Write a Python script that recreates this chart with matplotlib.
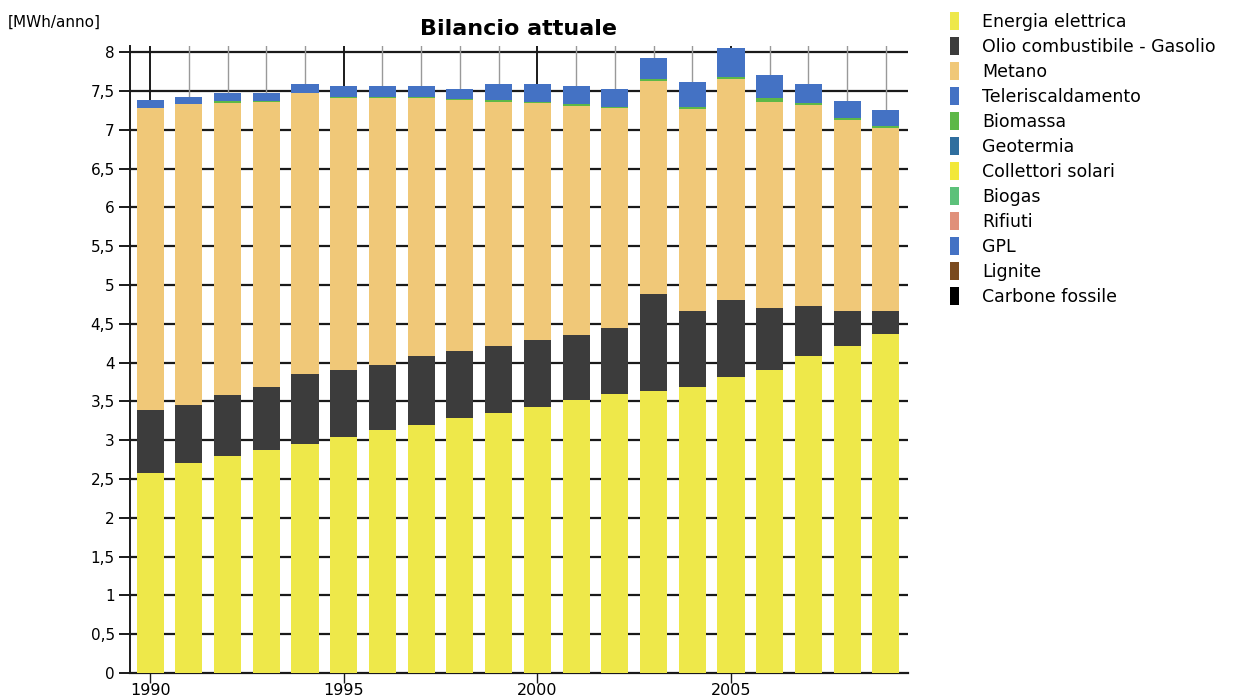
import numpy as np
import matplotlib
matplotlib.use("Agg")
import matplotlib.pyplot as plt
from matplotlib.patches import Patch

# dati (MWh/anno)
anni = list(range(1990, 2010))
energia_elettrica = [2.58, 2.70, 2.79, 2.87, 2.95, 3.04, 3.13, 3.20, 3.28, 3.35,
                     3.43, 3.52, 3.59, 3.64, 3.69, 3.81, 3.91, 4.08, 4.21, 4.37]
olio_gasolio = [0.81, 0.76, 0.79, 0.81, 0.90, 0.86, 0.84, 0.88, 0.87, 0.87,
                0.86, 0.84, 0.85, 1.24, 0.97, 1.00, 0.80, 0.65, 0.45, 0.29]
metano = [3.89, 3.87, 3.76, 3.68, 3.62, 3.51, 3.44, 3.33, 3.24, 3.14,
          3.05, 2.95, 2.84, 2.75, 2.61, 2.84, 2.65, 2.59, 2.46, 2.36]
biomassa = [0.00, 0.00, 0.03, 0.01, 0.01, 0.01, 0.01, 0.01, 0.01, 0.02,
            0.02, 0.02, 0.02, 0.03, 0.03, 0.03, 0.05, 0.03, 0.03, 0.03]
teleriscaldamento = [0.11, 0.09, 0.10, 0.10, 0.11, 0.14, 0.14, 0.14, 0.13, 0.21,
                     0.23, 0.23, 0.23, 0.27, 0.31, 0.37, 0.30, 0.24, 0.22, 0.20]

# ordine di impilamento (dal basso)
serie_barre = [
    ("Energia elettrica", energia_elettrica, "#EEE84A"),
    ("Olio combustibile - Gasolio", olio_gasolio, "#3C3C3C"),
    ("Metano", metano, "#F0C878"),
    ("Biomassa", biomassa, "#5DB847"),
    ("Teleriscaldamento", teleriscaldamento, "#4472C4"),
]

# voci della legenda
voci_legenda = ["Energia elettrica", "Olio combustibile - Gasolio", "Metano",
                "Teleriscaldamento", "Biomassa", "Geotermia", "Collettori solari",
                "Biogas", "Rifiuti", "GPL", "Lignite", "Carbone fossile"]
colori_legenda = ["#EEE84A", "#3C3C3C", "#F0C878", "#4472C4", "#5DB847", "#2F6E9E",
                  "#F2E83A", "#5CC17A", "#E0907A", "#4472C4", "#7A4A1E", "#000000"]

fig = plt.figure(figsize=(12.36, 7), dpi=100)
ax = fig.add_axes([130/1236, 1-673/700, (908-130)/1236, (673-46)/700])

x = np.array(anni)
base = np.zeros(len(anni))
for nome, valori, colore in serie_barre:
    ax.bar(x, valori, width=0.7, bottom=base, color=colore, edgecolor="none", zorder=3)
    base = base + np.array(valori)

# griglia orizzontale
for v in np.arange(0.5, 8.01, 0.5):
    ax.axhline(v, color="#1a1a1a", lw=1.6, zorder=1)
# linee verticali per ogni anno
for a in anni:
    if a % 5 == 0:
        ax.axvline(a, color="#1a1a1a", lw=1.4, zorder=1)
    else:
        ax.axvline(a, color="#999999", lw=1.0, zorder=1)

ax.set_xlim(1989.48, 2009.57)
ax.set_ylim(0, 8.08)

yt = np.arange(0, 8.01, 0.5)
ax.set_yticks(yt)
ax.set_yticklabels([("%g" % t).replace(".", ",") for t in yt], fontsize=11)
ax.set_xticks([1990, 1995, 2000, 2005])
ax.set_xticklabels(["1990", "1995", "2000", "2005"], fontsize=11.5)
ax.tick_params(axis="y", length=8, width=1.4, color="#1a1a1a", pad=3)
ax.tick_params(axis="x", length=7, width=1.0, color="#1a1a1a", pad=0)

for s in ["top", "right"]:
    ax.spines[s].set_visible(False)
ax.spines["left"].set_linewidth(1.4)
ax.spines["bottom"].set_linewidth(1.6)
ax.spines["left"].set_color("#1a1a1a")
ax.spines["bottom"].set_color("#1a1a1a")

ax.set_title("Bilancio attuale", fontsize=16, fontweight="bold", pad=8)
fig.text(8/1236, 1-22/700, "[MWh/anno]", fontsize=11, va="center", ha="left")

handles = [Patch(facecolor=c, edgecolor="none") for c in colori_legenda]
fig.legend(handles, voci_legenda, loc="upper left", bbox_to_anchor=(943/1236, 1-5/700),
           frameon=False, fontsize=12.5, handlelength=0.55, handleheight=1.2,
           labelspacing=0.36, handletextpad=1.3, borderaxespad=0)

fig.savefig("out.png", dpi=100)
